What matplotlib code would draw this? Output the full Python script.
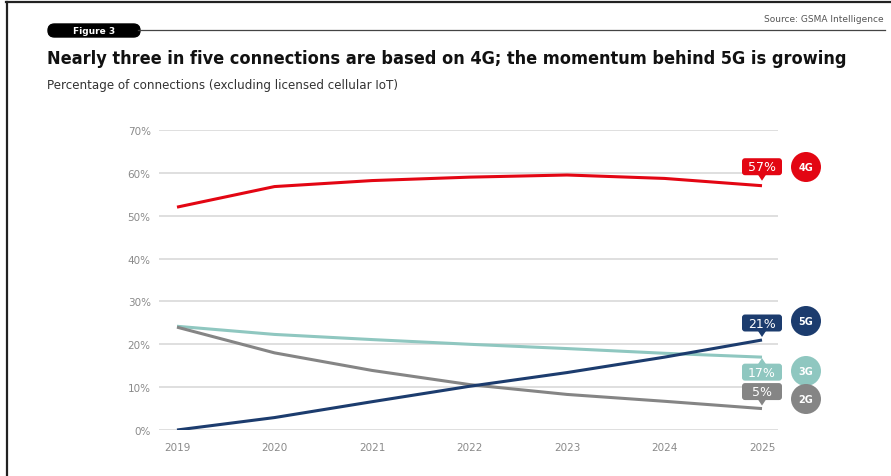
import matplotlib.pyplot as plt
from matplotlib.patches import FancyBboxPatch, Circle, Polygon
from matplotlib.lines import Line2D
import matplotlib.transforms as mtransforms

# series (share of connections, %)
years = [2019, 2020, 2021, 2022, 2023, 2024, 2025]
share_4g = [52.0, 56.8, 58.2, 59.0, 59.5, 58.7, 57.0]
share_5g = [0.0, 2.9, 6.6, 10.2, 13.4, 17.0, 21.0]
share_3g = [24.2, 22.3, 21.1, 20.0, 19.0, 17.9, 17.0]
share_2g = [24.0, 18.0, 13.9, 10.6, 8.3, 6.7, 5.0]
yticks = [0, 10, 20, 30, 40, 50, 60, 70]

red = '#e30613'
navy = '#1c3c6e'
teal = '#8fc7c0'
grey = '#858585'

W, H = 891, 477
fig = plt.figure(figsize=(W / 100, H / 100), dpi=100)
pix = mtransforms.IdentityTransform()

def fx(px):
    return px / W

def fy(py):
    return 1 - py / H

# frame + header
fig.add_artist(Line2D([fx(6), fx(891)], [fy(3), fy(3)], color='#222222', lw=1.6))
fig.add_artist(Line2D([fx(7), fx(7)], [fy(3), fy(477)], color='#222222', lw=1.6))
fig.add_artist(Line2D([fx(138), fx(885)], [fy(31), fy(31)], color='#444444', lw=0.9))
fig.add_artist(FancyBboxPatch((48, H - 38), 92, 13,
                              boxstyle='round,pad=0,rounding_size=6.5',
                              transform=pix, fc='black', ec='black'))
fig.text(fx(94), fy(31.5), 'Figure 3', color='white', fontsize=6.5, fontweight='bold',
         ha='center', va='center')
fig.text(fx(884), fy(19), 'Source: GSMA Intelligence', color='#555555', fontsize=6.5,
         ha='right', va='center')
fig.text(fx(47), fy(59), 'Nearly three in five connections are based on 4G; the momentum behind 5G is growing',
         fontsize=13, fontweight='bold', fontstretch='condensed', color='#111111',
         ha='left', va='center')
fig.text(fx(47), fy(86), 'Percentage of connections (excluding licensed cellular IoT)',
         fontsize=8.6, color='#333333', ha='left', va='center')

ax = fig.add_axes([fx(159), 46 / H, (778 - 159) / W, 300 / H])
ax.set_xlim(2019 - 18 / 97.5, 2025 + 16 / 97.5)
ax.set_ylim(0, 70)
for s in ax.spines.values():
    s.set_visible(False)
ax.set_yticks(yticks)
ax.set_yticklabels([f'{v}%' for v in yticks])
ax.set_xticks(years)
ax.set_xticklabels([str(y) for y in years])
ax.tick_params(length=0, colors='#8a8a8a', labelsize=7.5)
ax.tick_params(axis='y', pad=6)
ax.tick_params(axis='x', pad=9)
ax.grid(axis='y', color='#d9d9d9', lw=1.2)
ax.set_axisbelow(True)

series = [(share_4g, red), (share_3g, teal), (share_2g, grey), (share_5g, navy)]
for vals, col in series:
    ax.plot(years, vals, color=col, lw=2.2, solid_capstyle='butt', zorder=3)

# value callouts at 2025
def callout(val, col, dy):
    # dy: pixel offset of box centre (positive = above point)
    px0, py0 = ax.transData.transform((2025, val))
    fig.add_artist(FancyBboxPatch((px0 - 20, py0 + dy - 8.5), 40, 17,
                                  boxstyle='round,pad=0,rounding_size=3',
                                  transform=pix, fc=col, ec='none', zorder=6))
    sgn = 1 if dy > 0 else -1
    base = dy - sgn * 8
    tip = dy - sgn * 14
    pts = [(px0 - 4, py0 + base), (px0 + 4, py0 + base), (px0, py0 + tip)]
    fig.add_artist(Polygon(pts, closed=True, fc=col, ec='none', transform=pix, zorder=6))
    fig.text(px0 / W, (py0 + dy) / H, f'{val:.0f}%', ha='center', va='center',
             fontsize=9, color='white', zorder=7)

callout(share_4g[-1], red, 19)
callout(share_5g[-1], navy, 17)
callout(share_3g[-1], teal, -15)
callout(share_2g[-1], grey, 17)

# technology badges
for label, col, py in [('4G', red, 168), ('5G', navy, 322), ('3G', teal, 372), ('2G', grey, 400)]:
    fig.add_artist(Circle((806, H - py), 15, transform=pix, fc=col, ec='none'))
    fig.text(fx(806), fy(py), label, color='white', fontsize=7, fontweight='bold',
             ha='center', va='center')

fig.savefig('out.png', dpi=100)
